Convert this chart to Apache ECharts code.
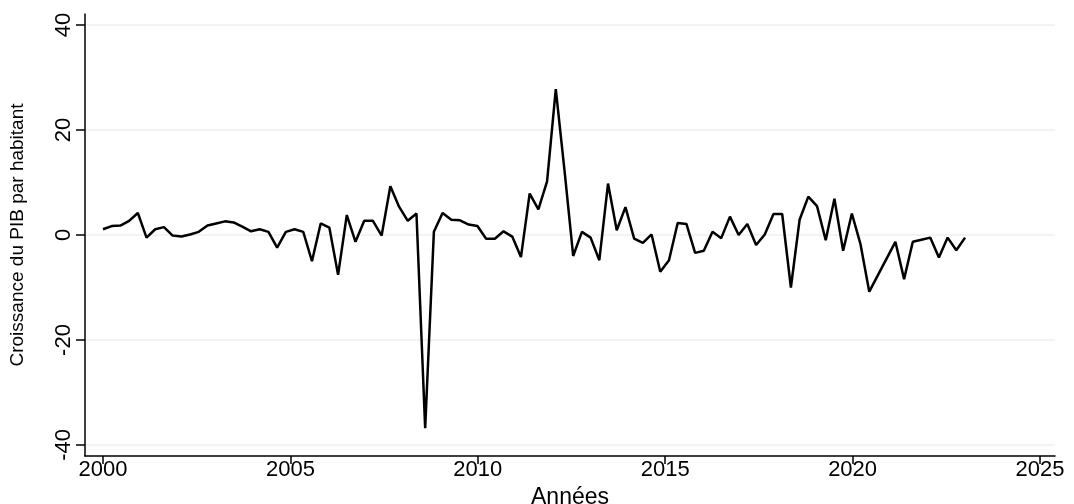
<!DOCTYPE html>
<html>
<head>
<meta charset="utf-8">
<script src="https://cdn.jsdelivr.net/npm/echarts@6/dist/echarts.min.js"></script>
<style>
  html, body { margin: 0; padding: 0; background: #fff; }
  #chart { width: 1074px; height: 504px; }
</style>
</head>
<body>
<div id="chart"></div>
<script>
// periodes : 100 observations entre 2000 et 2023
const firstYear = 2000
const lastYear = 2023
// croissance du PIB par habitant, null = valeur manquante
const croissance = [
  1.1, 1.7, 1.8, 2.7, 4.2, -0.5, 1.1, 1.5, -0.1, -0.3,
  0.1, 0.6, 1.8, 2.2, 2.6, 2.4, 1.6, 0.7, 1.1, 0.6,
  -2.4, 0.6, 1.1, 0.6, -5.0, 2.2, 1.4, -7.6, 3.8, -1.3,
  2.7, 2.7, -0.1, 9.3, 5.4, 2.7, 4.1, -36.8, 0.6, 4.2,
  2.9, 2.8, 2.0, 1.7, -0.7, -0.7, 0.7, -0.3, -4.2, 7.9,
  4.9, 10.2, 27.8, 12.3, -4.0, 0.6, -0.5, -4.8, 9.8, 0.9,
  5.3, -0.7, -1.5, 0.1, -7.0, -4.8, 2.3, 2.1, -3.4, -3.0,
  0.6, -0.6, 3.5, 0.0, 2.1, -1.9, 0.1, 4.0, 4.0, -10.0,
  2.9, 7.3, 5.5, -1.0, 6.9, -3.0, 4.1, -1.8, -10.8, null,
  null, -1.3, -8.4, -1.3, -0.9, -0.5, -4.3, -0.5, -2.9, -0.5
]
const xTicks = [2000, 2005, 2010, 2015, 2020, 2025]
const yTicks = [-40, -20, 0, 20, 40]

const step = (lastYear - firstYear) / (croissance.length - 1)
const points = croissance.map((v, i) => [firstYear + i * step, v])

const font = "'Liberation Sans Narrow', 'Arial Narrow', 'Liberation Sans', Arial, sans-serif"

const chart = echarts.init(document.getElementById('chart'), null, { renderer: 'canvas' })
chart.setOption({
  animation: false,
  backgroundColor: '#ffffff',
  grid: { left: 85, right: 19, top: 14, bottom: 48, outerBoundsMode: 'none', containLabel: false },
  xAxis: {
    type: 'value',
    min: 1999.52,
    max: 2025.4,
    name: 'Années',
    nameLocation: 'middle',
    nameGap: 27,
    nameTextStyle: { color: '#000', fontFamily: font, fontSize: 23 },
    axisLine: { show: true, onZero: false, lineStyle: { color: '#000', width: 1.5 } },
    axisTick: { show: true, length: 8, customValues: xTicks, lineStyle: { color: '#000', width: 1.5 } },
    axisLabel: {
      customValues: xTicks, color: '#000', fontFamily: font, fontSize: 22, margin: 3,
      formatter: v => String(v)
    },
    splitLine: { show: false }
  },
  yAxis: {
    type: 'value',
    min: -42.1,
    max: 42.1,
    name: 'Croissance du PIB par habitant',
    nameLocation: 'middle',
    nameGap: 58,
    nameTextStyle: { color: '#000', fontFamily: font, fontSize: 19 },
    axisLine: { show: true, lineStyle: { color: '#000', width: 1.5 } },
    axisTick: { show: true, length: 9, customValues: yTicks, lineStyle: { color: '#000', width: 1.5 } },
    axisLabel: { customValues: yTicks, rotate: 90, color: '#000', fontFamily: font, fontSize: 22, margin: 10 },
    splitLine: { show: true, lineStyle: { color: '#eaf2f3', width: 1.5 } }
  },
  series: [{
    type: 'line',
    data: points,
    showSymbol: false,
    connectNulls: true,
    lineStyle: { color: '#000', width: 2.5 }
  }]
})
</script>
</body>
</html>
